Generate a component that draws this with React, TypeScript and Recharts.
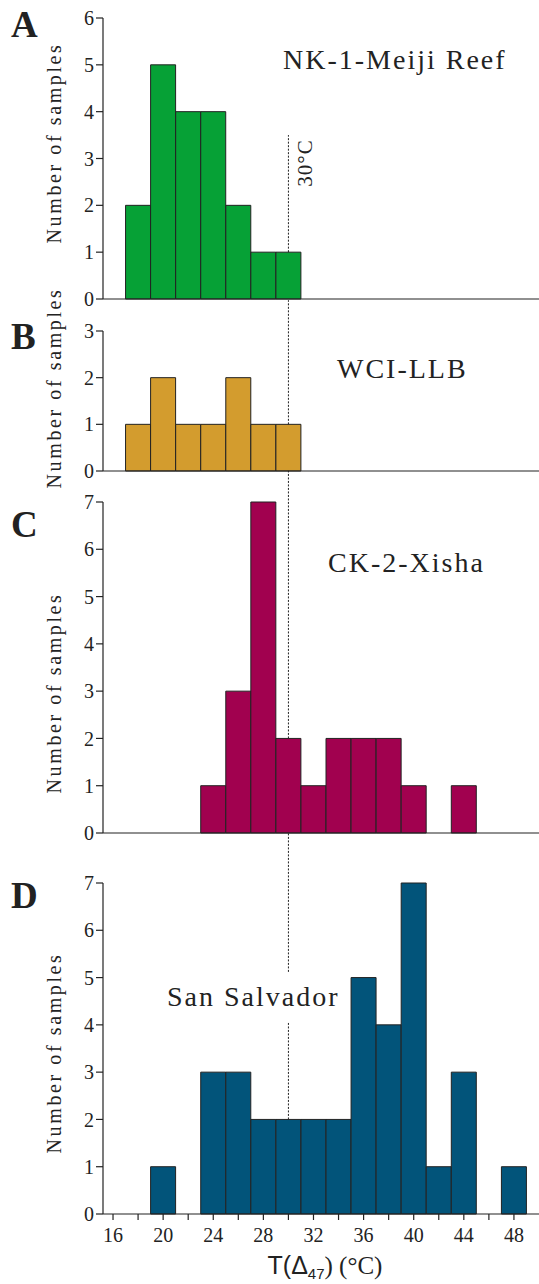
import React from 'react';
import { BarChart, Bar, XAxis, YAxis, ReferenceLine } from 'recharts';

// bin centres (°C), 2 °C wide bins
const binCenters = [16, 18, 20, 22, 24, 26, 28, 30, 32, 34, 36, 38, 40, 42, 44, 46, 48];
const xTicks = [16, 18, 20, 22, 24, 26, 28, 30, 32, 34, 36, 38, 40, 42, 44, 46, 48];
const xLabelTicks = [16, 20, 24, 28, 32, 36, 40, 44, 48];

// sample counts per bin
const countsMeiji = [0, 2, 5, 4, 4, 2, 1, 1, 0, 0, 0, 0, 0, 0, 0, 0, 0];
const countsWCI = [0, 1, 2, 1, 1, 2, 1, 1, 0, 0, 0, 0, 0, 0, 0, 0, 0];
const countsXisha = [0, 0, 0, 0, 1, 3, 7, 2, 1, 2, 2, 2, 1, 0, 1, 0, 0];
const countsSanSalvador = [0, 0, 1, 0, 3, 3, 2, 2, 2, 2, 5, 4, 7, 1, 3, 0, 1];

const ticksA = [0, 1, 2, 3, 4, 5, 6];
const ticksB = [0, 1, 2, 3];
const ticksC = [0, 1, 2, 3, 4, 5, 6, 7];
const ticksD = [0, 1, 2, 3, 4, 5, 6, 7];

const refTemp = 30;

const serif = '"Liberation Serif", "Times New Roman", serif';
const sans = '"Liberation Sans", Arial, sans-serif';
const ink = '#222';

const toRows = (counts: number[]) => binCenters.map((t, i) => ({ t, n: counts[i] }));

type PanelProps = {
  top: number;
  height: number;
  marginTop: number;
  xAxisHeight: number;
  counts: number[];
  yTicks: number[];
  color: string;
  showXLabels?: boolean;
  segments: [number, number][];
};

function Panel({ top, height, marginTop, xAxisHeight, counts, yTicks, color, showXLabels, segments }: PanelProps) {
  const yMax = yTicks[yTicks.length - 1];
  return (
    <div style={{ position: 'absolute', left: 0, top }}>
      <BarChart
        width={539}
        height={height}
        data={toRows(counts)}
        margin={{ top: marginTop, right: 0, bottom: 0, left: 0 }}
        barCategoryGap={0}
        barGap={0}
      >
        <XAxis
          dataKey="t"
          type="number"
          domain={[15.2, 50]}
          allowDataOverflow
          ticks={xTicks}
          interval={0}
          height={xAxisHeight}
          tickSize={6}
          tickMargin={8}
          stroke={ink}
          strokeWidth={1.2}
          tick={
            showXLabels
              ? { fill: ink, fontSize: 20, fontFamily: serif }
              : false
          }
          tickFormatter={(v: number) => (xLabelTicks.includes(v) ? String(v) : '')}
        />
        <YAxis
          type="number"
          domain={[0, yMax]}
          ticks={yTicks}
          interval={0}
          width={103}
          tickSize={7}
          tickMargin={2}
          stroke={ink}
          strokeWidth={1.2}
          tick={{ fill: ink, fontSize: 20, fontFamily: serif }}
        />
        <Bar dataKey="n" fill={color} stroke={ink} strokeWidth={1} isAnimationActive={false} />
        {segments.map(([y1, y2], i) => (
          <ReferenceLine
            key={i}
            segment={[
              { x: refTemp, y: y1 },
              { x: refTemp, y: y2 },
            ]}
            ifOverflow="visible"
            stroke={ink}
            strokeWidth={1}
            strokeDasharray="2 1.5"
          />
        ))}
      </BarChart>
    </div>
  );
}

export default function App() {
  const yLabel = (cy: number) => (
    <text
      x={0}
      y={0}
      transform={`translate(54 ${cy}) rotate(-90)`}
      textAnchor="middle"
      dominantBaseline="central"
      fontFamily={serif}
      fontSize={20}
      letterSpacing={2.6}
      fill={ink}
    >
      Number of samples
    </text>
  );
  const panelLetter = (letter: string, y: number) => (
    <text x={11} y={y} fontFamily={serif} fontWeight="bold" fontSize={37} fill={ink}>
      {letter}
    </text>
  );
  const title = (s: string, x: number, y: number) => (
    <text x={x} y={y} fontFamily={serif} fontSize={28} letterSpacing={2} fill={ink}>
      {s}
    </text>
  );

  return (
    <div style={{ position: 'absolute', left: 0, top: 0, width: 539, height: 1284, background: '#fff' }}>
      <style>{'svg { overflow: visible; }'}</style>
      <Panel top={0} height={306} marginTop={18} xAxisHeight={7} counts={countsMeiji} yTicks={ticksA}
        color="#06a136" segments={[[1, 3.5]]} />
      <Panel top={306} height={172} marginTop={25} xAxisHeight={7} counts={countsWCI} yTicks={ticksB}
        color="#d39c2e" segments={[[1, 3.66]]} />
      <Panel top={478} height={362} marginTop={24} xAxisHeight={7} counts={countsXisha} yTicks={ticksC}
        color="#a1014f" segments={[[2, 7.66]]} />
      <Panel top={840} height={409} marginTop={43} xAxisHeight={35} counts={countsSanSalvador} yTicks={ticksD}
        color="#02547a" showXLabels segments={[[5.12, 8.06], [2, 4.04]]} />

      <svg width={539} height={1284} style={{ position: 'absolute', left: 0, top: 0, pointerEvents: 'none' }}>
        {panelLetter('A', 37)}
        {panelLetter('B', 349)}
        {panelLetter('C', 537)}
        {panelLetter('D', 908)}
        {yLabel(143)}
        {yLabel(388)}
        {yLabel(693)}
        {yLabel(1053)}
        {title('NK-1-Meiji Reef', 283, 69)}
        {title('WCI-LLB', 337, 378)}
        {title('CK-2-Xisha', 328, 572)}
        {title('San Salvador', 167, 1006)}
        <text
          x={0}
          y={0}
          transform="translate(305 163) rotate(-90)"
          textAnchor="middle"
          dominantBaseline="central"
          fontFamily={serif}
          fontSize={21}
          letterSpacing={1}
          fill={ink}
        >
          30°C
        </text>
        <text x={325} y={1274} textAnchor="middle" fontSize={25} fill={ink}>
          <tspan fontFamily={sans}>T(Δ</tspan>
          <tspan fontFamily={sans} fontSize={15} dy={5}>47</tspan>
          <tspan fontFamily={serif} dy={-5}>) (°C)</tspan>
        </text>
      </svg>
    </div>
  );
}
